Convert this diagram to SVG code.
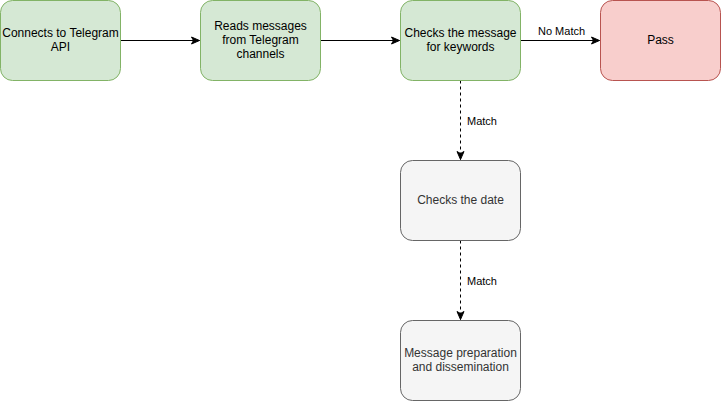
<svg xmlns="http://www.w3.org/2000/svg" width="721" height="401" viewBox="0 0 721 401">
<style>
.box{stroke-width:1}
.green{fill:#d5e8d4;stroke:#82b366}
.red{fill:#f8cecc;stroke:#b85450}
.grey{fill:#f5f5f5;stroke:#666666}
.t{font-family:"Liberation Sans",Arial,Helvetica,sans-serif;font-size:12px;fill:#000000;text-anchor:middle}
.tg{font-family:"Liberation Sans",Arial,Helvetica,sans-serif;font-size:12px;fill:#333333;text-anchor:middle}
.lbl{font-family:"Liberation Sans",Arial,Helvetica,sans-serif;font-size:11px;fill:#000000}
.edge{fill:none;stroke:#000000;stroke-width:1}
.dash{stroke-dasharray:3 3}
</style>
<defs>
<marker id="arr" markerUnits="userSpaceOnUse" markerWidth="10" markerHeight="10" viewBox="0 0 10 10" refX="9" refY="5" orient="auto">
<path d="M1,1.5 L9,5 L1,8.5 L3,5 Z" fill="#000000" stroke="#000000" stroke-width="1"/>
</marker>
</defs>
<rect width="721" height="401" fill="#ffffff"/>
<g id="connectors">
<path class="edge" d="M120.5,40.5 L199.5,40.5" marker-end="url(#arr)"/>
<path class="edge" d="M320.5,40.5 L399.5,40.5" marker-end="url(#arr)"/>
<path class="edge" d="M520.5,40.5 L599.5,40.5" marker-end="url(#arr)"/>
<path class="edge dash" d="M460.5,80.5 L460.5,159.5" marker-end="url(#arr)"/>
<path class="edge dash" d="M460.5,240.5 L460.5,319.5" marker-end="url(#arr)"/>
<text class="lbl" x="538" y="35">No Match</text>
<text class="lbl" x="467" y="125">Match</text>
<text class="lbl" x="467" y="285">Match</text>
</g>
<g id="node-connect">
<rect class="box green" x="0.5" y="0.5" width="120" height="80" rx="12" ry="12"/>
<text class="t" x="60.5" y="37">Connects to Telegram</text>
<text class="t" x="60.5" y="51">API</text>
</g>
<g id="node-read">
<rect class="box green" x="200.5" y="0.5" width="120" height="80" rx="12" ry="12"/>
<text class="t" x="260.5" y="30">Reads messages</text>
<text class="t" x="260.5" y="44">from Telegram</text>
<text class="t" x="260.5" y="58">channels</text>
</g>
<g id="node-check">
<rect class="box green" x="400.5" y="0.5" width="120" height="80" rx="12" ry="12"/>
<text class="t" x="460.5" y="37">Checks the message</text>
<text class="t" x="460.5" y="51">for keywords</text>
</g>
<g id="node-pass">
<rect class="box red" x="600.5" y="0.5" width="120" height="80" rx="12" ry="12"/>
<text class="t" x="660.5" y="44">Pass</text>
</g>
<g id="node-date">
<rect class="box grey" x="400.5" y="160.5" width="120" height="80" rx="12" ry="12"/>
<text class="tg" x="460.5" y="204">Checks the date</text>
</g>
<g id="node-prep">
<rect class="box grey" x="400.5" y="320.5" width="120" height="80" rx="12" ry="12"/>
<text class="tg" x="460.5" y="357">Message preparation</text>
<text class="tg" x="460.5" y="371">and dissemination</text>
</g>
</svg>
